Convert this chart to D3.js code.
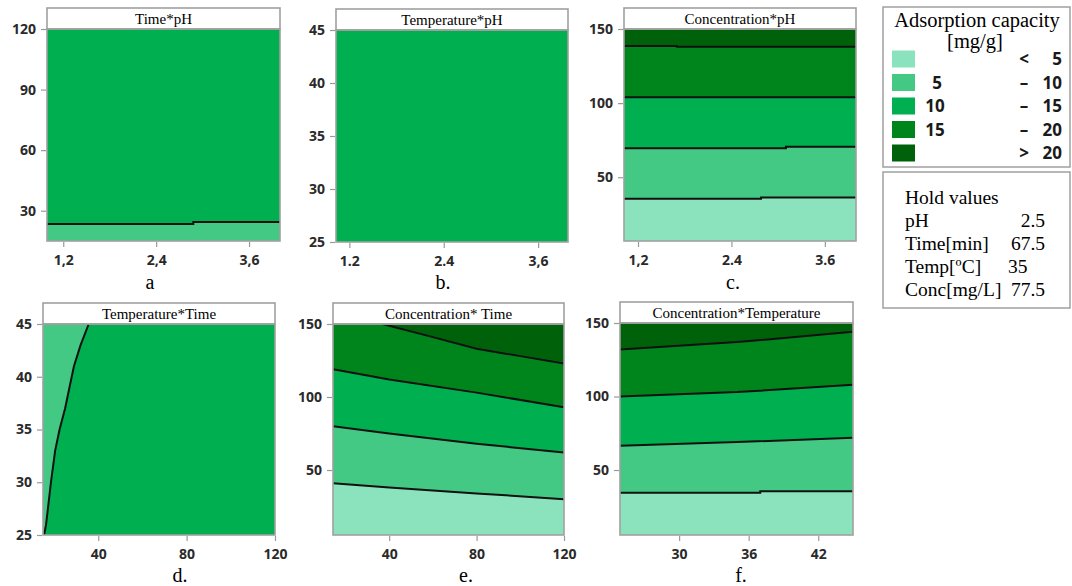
<!DOCTYPE html>
<html>
<head>
<meta charset="utf-8">
<script src="https://cdn.jsdelivr.net/npm/d3@7"></script>
<style>
  body { margin: 0; background: #fff; }
  .tick text { font-family: "Open Sans", sans-serif; font-weight: 700; font-size: 14px; fill: #2a2a2a; }
  .tick line { stroke: #9a9a9a; stroke-width: 1.2; }
  .serif { font-family: "Liberation Serif", "Times New Roman", serif; fill: #000; }
</style>
</head>
<body>
<svg id="chart" width="1072" height="586"></svg>
<script>
// panel data
const titles = ["Time*pH", "Temperature*pH", "Concentration*pH",
                "Temperature*Time", "Concentration* Time", "Concentration*Temperature"];
const letters = ["a", "b.", "c.", "d.", "e.", "f."];
const xDomains = [[0.99, 4], [1.03, 3.98], [1.02, 4], [15, 120], [14.3, 120], [24.9, 45]];
const yDomains = [[15, 120], [25, 45], [7, 150], [25, 45], [5.5, 150], [5.8, 150]];
const xTicks = [[1.2, 2.4, 3.6], [1.2, 2.4, 3.6], [1.2, 2.4, 3.6], [40, 80, 120], [40, 80, 120], [30, 36, 42]];
const xTickLabels = [["1,2", "2,4", "3,6"], ["1.2", "2.4", "3,6"], ["1,2", "2.4", "3.6"],
                     ["40", "80", "120"], ["40", "80", "120"], ["30", "36", "42"]];
const yTicks = [[30, 60, 90, 120], [25, 30, 35, 40, 45], [50, 100, 150],
                [25, 30, 35, 40, 45], [50, 100, 150], [50, 100, 150]];
// band index of the top region of each panel
const baseBand = [2, 2, 4, 2, 4, 4];

// contour lines: band = colour index of the region below (or left of) the line
const contoursA = [{band: 1, side: "below", pts: [[0.99, 23.4], [2.88, 23.4], [2.88, 24.4], [4, 24.4]]}];
const contoursB = [];
const contoursC = [
  {band: 3, side: "below", pts: [[1.02, 138.5], [1.7, 138.5], [1.7, 138], [4, 138]]},
  {band: 2, side: "below", pts: [[1.02, 104], [4, 104]]},
  {band: 1, side: "below", pts: [[1.02, 69.5], [3.1, 69.5], [3.1, 70.5], [4, 70.5]]},
  {band: 0, side: "below", pts: [[1.02, 35.5], [2.78, 35.5], [2.78, 36.3], [4, 36.3]]}
];
const contoursD = [{band: 1, side: "left", pts: [[15.5, 25], [16.4, 26], [17.5, 28], [18.6, 30], [20.5, 33], [22.5, 35], [25, 37], [27, 39], [29, 41], [32, 43], [35.7, 45]]}];
const contoursE = [
  {band: 3, side: "below", pts: [[37, 150], [60, 141], [80, 133], [100, 128], [120, 123]]},
  {band: 2, side: "below", pts: [[14.3, 119], [40, 112], [80, 103], [120, 93]]},
  {band: 1, side: "below", pts: [[14.3, 80], [40, 75], [80, 68], [120, 62]]},
  {band: 0, side: "below", pts: [[14.3, 41], [40, 38], [80, 34], [120, 30]]}
];
const contoursF = [
  {band: 3, side: "below", pts: [[24.9, 132], [35, 137], [45, 144]]},
  {band: 2, side: "below", pts: [[24.9, 100], [35, 103], [45, 108]]},
  {band: 1, side: "below", pts: [[24.9, 66.5], [35, 69], [45, 72]]},
  {band: 0, side: "below", pts: [[24.9, 34.5], [37, 34.5], [37, 35.5], [45, 35.5]]}
];
const contours = [contoursA, contoursB, contoursC, contoursD, contoursE, contoursF];

// legend
const legendTitle = ["Adsorption capacity", "[mg/g]"];
const bandLow = ["", "5", "10", "15", ""];
const bandSym = ["<", "–", "–", "–", ">"];
const bandHigh = ["5", "10", "15", "20", "20"];
const holdNames = ["pH", "Time[min]", "Temp[ºC]", "Conc[mg/L]"];
const holdValues = ["2.5", "67.5", "35", "77.5"];

// styles / layout
const bandColors = ["#8be3bd", "#44c985", "#00b050", "#00841c", "#00610b"];
const boxes = [
  {l: 47, t: 29, r: 280, b: 241, lx: 150, ly: 289},
  {l: 336, t: 30, r: 568, b: 242, lx: 443, ly: 289},
  {l: 624, t: 29, r: 856, b: 241, lx: 733, ly: 289},
  {l: 43, t: 324, r: 275, b: 535, lx: 180, ly: 582},
  {l: 333, t: 324, r: 564, b: 535, lx: 466, ly: 582},
  {l: 620, t: 323, r: 853, b: 535, lx: 741, ly: 582}
];

const svg = d3.select("#chart");

boxes.forEach(function (bx, i) {
  const x = d3.scaleLinear().domain(xDomains[i]).range([bx.l, bx.r]);
  const y = d3.scaleLinear().domain(yDomains[i]).range([bx.b, bx.t]);
  const [x0, x1] = xDomains[i];
  const [y0, y1] = yDomains[i];
  const g = svg.append("g");

  const clipId = "clip" + i;
  g.append("clipPath").attr("id", clipId)
    .append("rect").attr("x", bx.l).attr("y", bx.t)
    .attr("width", bx.r - bx.l).attr("height", bx.b - bx.t);
  const plot = g.append("g").attr("clip-path", "url(#" + clipId + ")");

  plot.append("rect").attr("x", bx.l).attr("y", bx.t)
    .attr("width", bx.r - bx.l).attr("height", bx.b - bx.t)
    .attr("fill", bandColors[baseBand[i]]);

  const line = d3.line().x(d => x(d[0])).y(d => y(d[1]));
  contours[i].forEach(function (c) {
    const p = c.pts;
    let poly;
    if (c.side === "below") {
      poly = [[x0, p[0][1] >= y1 ? y1 : p[0][1]]].concat(p, [[x1, y0], [x0, y0]]);
    } else {
      poly = p.concat([[x0, p[p.length - 1][1]], [x0, p[0][1]]]);
    }
    plot.append("path").attr("d", line(poly) + "Z").attr("fill", bandColors[c.band]);
  });
  contours[i].forEach(function (c) {
    plot.append("path").attr("d", line(c.pts))
      .attr("fill", "none").attr("stroke", "#111").attr("stroke-width", 2);
  });

  // frame + title box
  g.append("rect").attr("x", bx.l).attr("y", bx.t - 21)
    .attr("width", bx.r - bx.l).attr("height", 21)
    .attr("fill", "#fff").attr("stroke", "#a0a0a0").attr("stroke-width", 1.6);
  g.append("rect").attr("x", bx.l).attr("y", bx.t)
    .attr("width", bx.r - bx.l).attr("height", bx.b - bx.t)
    .attr("fill", "none").attr("stroke", "#a0a0a0").attr("stroke-width", 1.6);
  g.append("text").attr("class", "serif")
    .attr("x", (bx.l + bx.r) / 2).attr("y", bx.t - 5)
    .attr("text-anchor", "middle").attr("font-size", "15px")
    .text(titles[i]);

  // axes
  const xAxis = d3.axisBottom(x).tickValues(xTicks[i])
    .tickFormat((d, k) => xTickLabels[i][k]).tickSize(5).tickSizeOuter(0).tickPadding(5);
  const yAxis = d3.axisLeft(y).tickValues(yTicks[i]).tickSize(5).tickSizeOuter(0).tickPadding(5);
  const gx = g.append("g").attr("transform", "translate(0," + (bx.b + 1) + ")").call(xAxis);
  const gy = g.append("g").attr("transform", "translate(" + (bx.l - 1) + ",0)").call(yAxis);
  gx.select(".domain").remove();
  gy.select(".domain").remove();
  gx.selectAll(".tick text").attr("dy", "0.95em");

  g.append("text").attr("class", "serif")
    .attr("x", bx.lx).attr("y", bx.ly)
    .attr("text-anchor", "middle").attr("font-size", "20px")
    .text(letters[i]);
});

// legend box
const lg = svg.append("g");
lg.append("rect").attr("x", 883).attr("y", 7).attr("width", 187).attr("height", 160)
  .attr("fill", "#fff").attr("stroke", "#a0a0a0").attr("stroke-width", 1.5);
lg.append("text").attr("class", "serif").attr("x", 977).attr("y", 27)
  .attr("text-anchor", "middle").attr("font-size", "20.5px").text(legendTitle[0]);
lg.append("text").attr("class", "serif").attr("x", 975).attr("y", 48)
  .attr("text-anchor", "middle").attr("font-size", "20.5px").text(legendTitle[1]);

const rowY = d3.scaleLinear().domain([0, 4]).range([59, 153]);
const numFont = 'font-family:"Open Sans",sans-serif;font-weight:700;font-size:17px;fill:#1a1a1a';
bandColors.forEach(function (col, k) {
  const cy = rowY(k);
  lg.append("rect").attr("x", 892).attr("y", cy - 8.5).attr("width", 23).attr("height", 17)
    .attr("fill", col);
  lg.append("text").attr("x", k === 1 ? 937 : 935).attr("y", cy + 6)
    .attr("text-anchor", "middle").attr("style", numFont).text(bandLow[k]);
  lg.append("text").attr("x", 1024).attr("y", cy + 6)
    .attr("text-anchor", "middle").attr("style", numFont).text(bandSym[k]);
  lg.append("text").attr("x", 1062).attr("y", cy + 6)
    .attr("text-anchor", "end").attr("style", numFont).text(bandHigh[k]);
});

// hold values box
const hg = svg.append("g");
hg.append("rect").attr("x", 883).attr("y", 172).attr("width", 187).attr("height", 136)
  .attr("fill", "#fff").attr("stroke", "#a0a0a0").attr("stroke-width", 1.5);
hg.append("text").attr("class", "serif").attr("x", 905).attr("y", 204)
  .attr("font-size", "19.5px").text("Hold values");
const holdY = d3.scaleLinear().domain([0, 3]).range([227, 296]);
holdNames.forEach(function (n, k) {
  hg.append("text").attr("class", "serif").attr("x", 905).attr("y", holdY(k))
    .attr("font-size", "19.5px").text(n);
  const start = k === 2;
  hg.append("text").attr("class", "serif").attr("x", start ? 1008 : 1045).attr("y", holdY(k))
    .attr("text-anchor", start ? "start" : "end")
    .attr("font-size", "19.5px").text(holdValues[k]);
});
</script>
</body>
</html>
